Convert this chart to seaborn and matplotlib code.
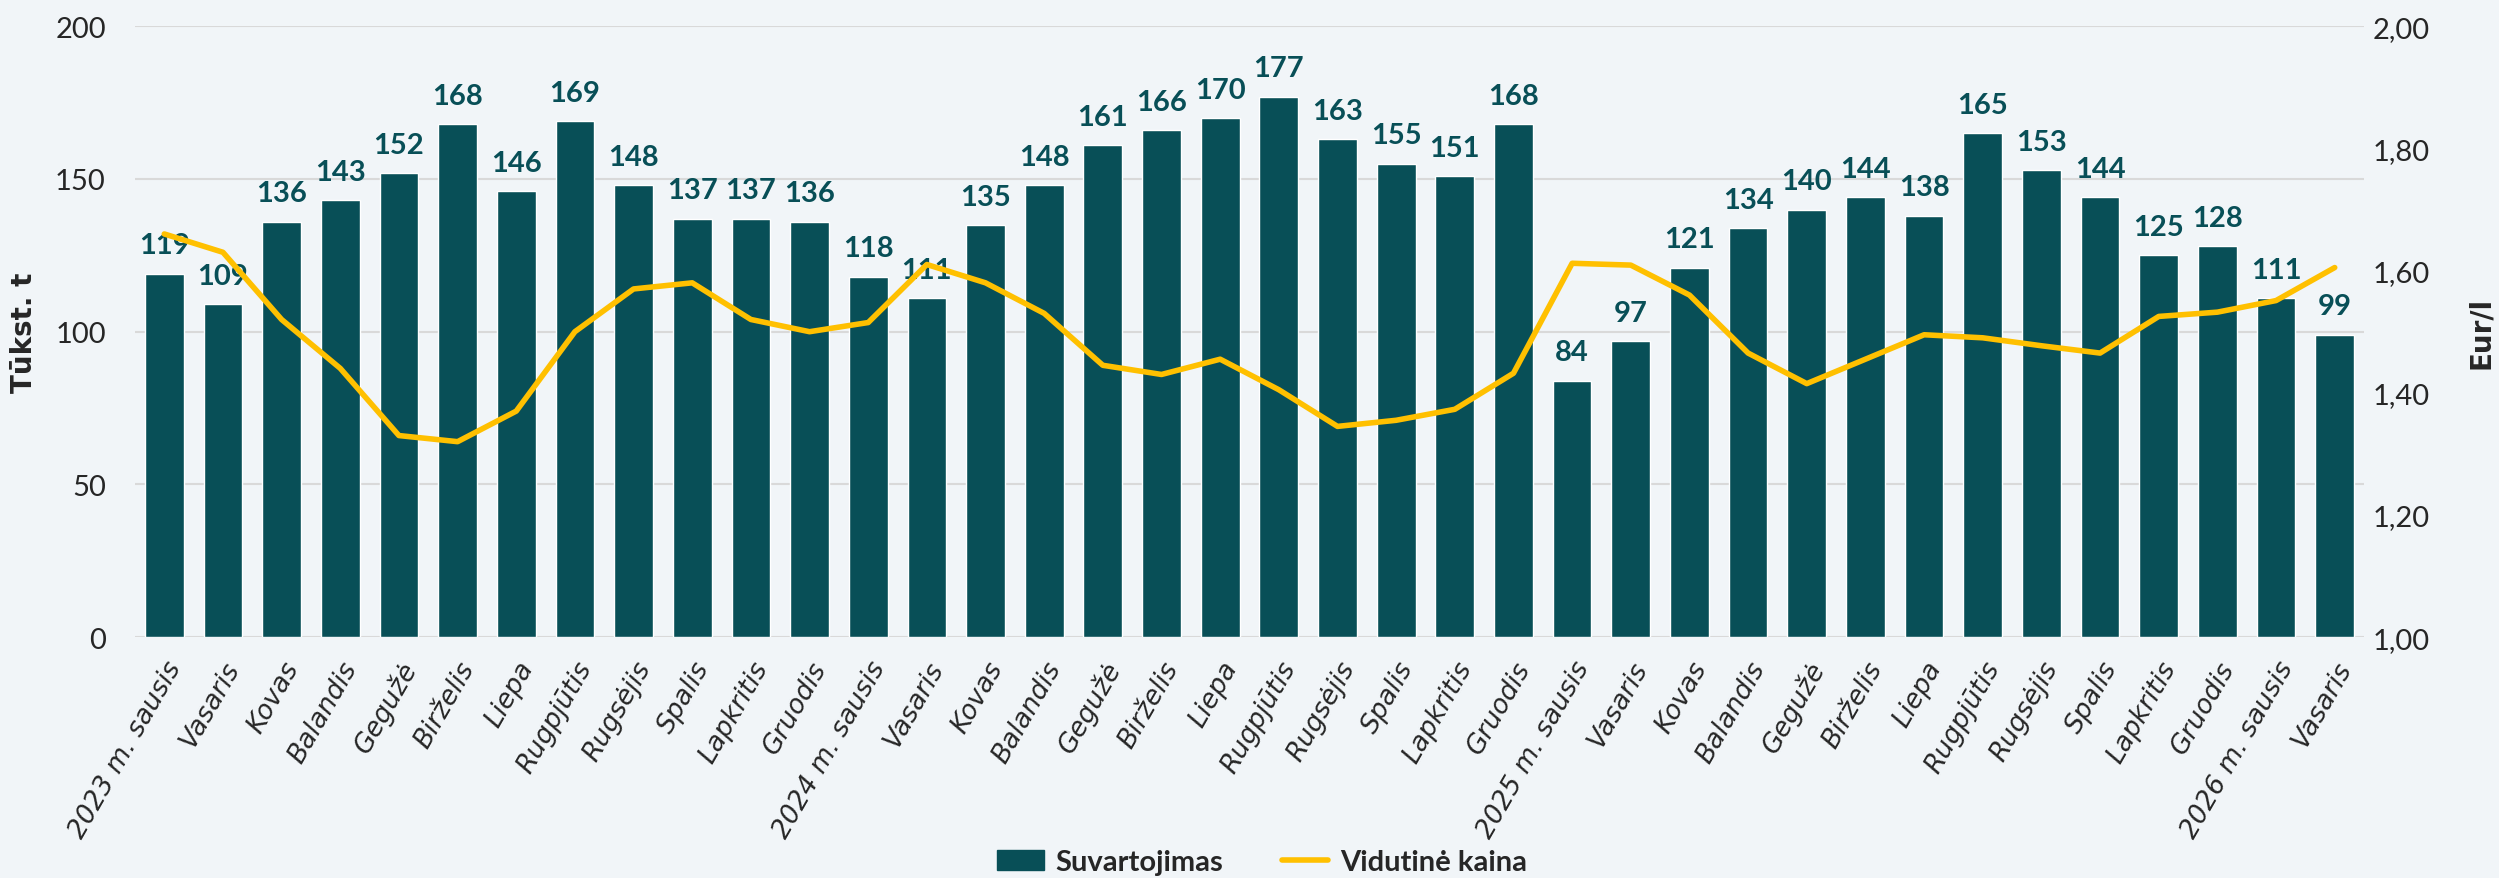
# Suvartojimas ir vidutinė kaina pagal mėnesius
import numpy as np
import pandas as pd
import matplotlib
matplotlib.use('Agg')
import matplotlib.pyplot as plt
from matplotlib.ticker import FuncFormatter
from matplotlib.patches import Patch
from matplotlib.lines import Line2D
import seaborn as sns

## Data
months = ['Vasaris', 'Kovas', 'Balandis', 'Gegužė', 'Birželis', 'Liepa',
          'Rugpjūtis', 'Rugsėjis', 'Spalis', 'Lapkritis', 'Gruodis']
labels = (['2023 m. sausis'] + months + ['2024 m. sausis'] + months
          + ['2025 m. sausis'] + months + ['2026 m. sausis', 'Vasaris'])

# thousand tonnes
consumption = [119, 109, 136, 143, 152, 168, 146, 169, 148, 137, 137, 136,
               118, 111, 135, 148, 161, 166, 170, 177, 163, 155, 151, 168,
               84, 97, 121, 134, 140, 144, 138, 165, 153, 144, 125, 128,
               111, 99]
# Eur/l
price = [1.66, 1.63, 1.52, 1.44, 1.33, 1.32, 1.37, 1.50, 1.57, 1.58, 1.52, 1.50,
         1.515, 1.61, 1.58, 1.53, 1.445, 1.43, 1.455, 1.405, 1.345, 1.355, 1.373, 1.432,
         1.612, 1.609, 1.56, 1.465, 1.415, 1.455, 1.495, 1.49, 1.477, 1.465, 1.525, 1.532,
         1.551, 1.605]

df = pd.DataFrame({'pos': np.arange(len(labels)), 'label': labels,
                   'consumption': consumption, 'price': price})

## Style
bar_color = '#084F57'
line_color = '#FFC000'
bg = '#F1F5F8'
num_font = ['Lato', 'DejaVu Sans']

sns.set_style('white')
plt.rcParams['font.family'] = ['DejaVu Sans']

fig = plt.figure(figsize=(24.99, 8.79), dpi=100, facecolor=bg)
ax = fig.add_axes([0.054, 0.274, 0.892, 0.695])
ax.set_facecolor(bg)

sns.barplot(data=df, x='pos', y='consumption', color=bar_color, width=0.66,
            saturation=1, ax=ax, zorder=2)
ax.bar_label(ax.containers[0], labels=[str(v) for v in consumption], padding=11,
             color=bar_color, fontsize=21, fontweight='bold', family=num_font)

ax.set_ylim(0, 200)
ax.set_yticks([0, 50, 100, 150, 200])
ax.set_xlim(-0.5, len(labels) - 0.5)
ax.grid(axis='y', color='#D9D9D9', lw=1.5, zorder=0)
ax.set_axisbelow(True)
ax.set_xticks(df['pos'])
ax.set_xticklabels(labels, rotation=60, ha='right', rotation_mode='anchor',
                   fontsize=19, style='italic')
ax.tick_params(axis='x', length=0, pad=14)
ax.tick_params(axis='y', length=0, pad=21)
for t in ax.get_yticklabels():
    t.set_family(num_font)
    t.set_fontsize(21)
ax.set_xlabel('')
ax.set_ylabel('Tūkst. t', fontsize=20, fontweight='bold')
ax.yaxis.set_label_coords(-0.0435, 0.5)
sns.despine(ax=ax, left=True, bottom=True)

# price on the right axis
ax2 = ax.twinx()
sns.lineplot(data=df, x='pos', y='price', color=line_color, lw=4, ax=ax2, zorder=3)
ax2.set_ylim(1.0, 2.0)
ax2.set_yticks(np.arange(1.0, 2.01, 0.2))
ax2.yaxis.set_major_formatter(FuncFormatter(lambda v, p: f'{v:.2f}'.replace('.', ',')))
ax2.tick_params(axis='y', length=0, pad=6)
for t in ax2.get_yticklabels():
    t.set_family(num_font)
    t.set_fontsize(21)
ax2.set_ylabel('Eur/l', fontsize=20, fontweight='bold')
ax2.yaxis.set_label_coords(1.046, 0.5)
ax2.grid(False)
sns.despine(ax=ax2, left=True, bottom=True, right=True)

# legend at the bottom
handles = [Patch(color=bar_color, label='Suvartojimas'),
           Line2D([0], [0], color=line_color, lw=4, label='Vidutinė kaina')]
fig.legend(handles=handles, loc='center', bbox_to_anchor=(0.505, 0.018), ncol=2,
           frameon=False, prop={'family': num_font, 'weight': 'bold', 'size': 21},
           handlelength=1.6, columnspacing=2.0, handletextpad=0.4)

fig.savefig('out.png', dpi=100, facecolor=bg)
